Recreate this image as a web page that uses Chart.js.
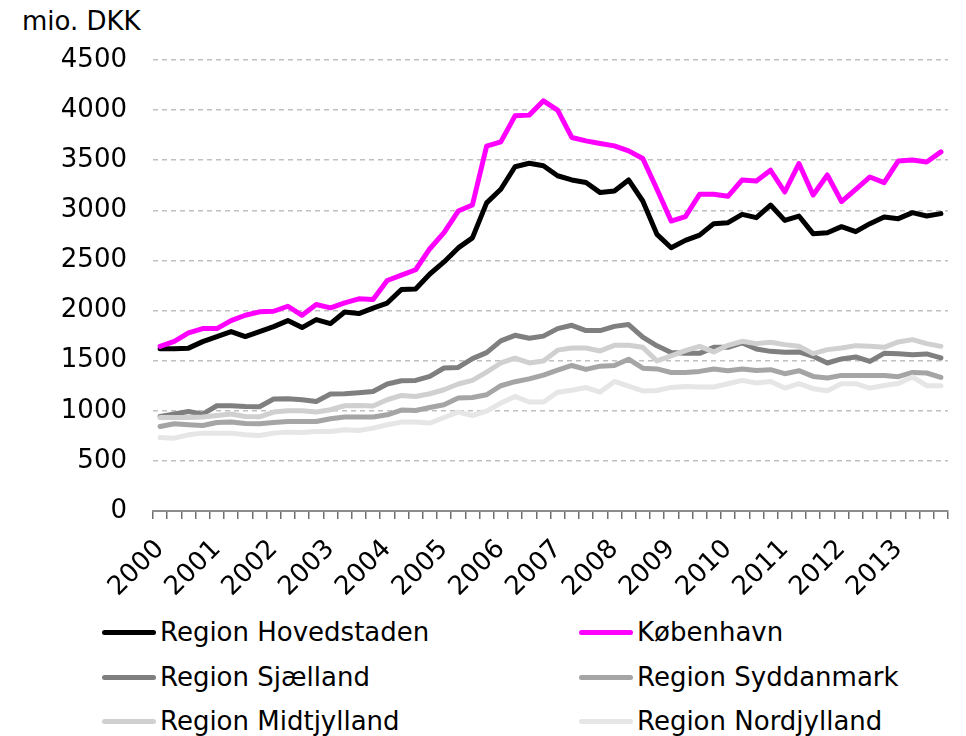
<!DOCTYPE html>
<html lang="da">
<head>
<meta charset="UTF-8">
<title>Regioner</title>
<script src="https://cdn.jsdelivr.net/npm/chart.js"></script>
<style>
  body { margin: 0; background: #fff; font-family: "DejaVu Sans", Verdana, sans-serif; }
  #wrap { position: relative; width: 966px; height: 736px; }
  #unit { position: absolute; left: 22px; top: 6px; font-size: 26px; color: #000; }
  canvas { position: absolute; left: 0; top: 0; }
  .leg { position: absolute; font-size: 26px; color: #000; line-height: 30px; white-space: nowrap; }
  .leg i { position: absolute; left: -58px; top: 13px; width: 54px; height: 5px; border-radius: 3px; }
</style>
</head>
<body>
<div id="wrap">
  <div id="unit">mio. DKK</div>
  <canvas id="c" width="966" height="600"></canvas>
  <div id="legend"></div>
</div>
<script>
const years = ["2000","2001","2002","2003","2004","2005","2006","2007","2008","2009","2010","2011","2012","2013"];
const quarters = ["K1","K2","K3","K4"];
const categories = [];
years.forEach(y => quarters.forEach(q => categories.push(y + q)));

const seriesNames = ["Region Hovedstaden", "København", "Region Sjælland", "Region Syddanmark", "Region Midtjylland", "Region Nordjylland"];
const seriesColors = ["#000000", "#ff00ff", "#7f7f7f", "#a5a5a5", "#d0d0d0", "#e6e6e6"];

const hovedstaden = [1620,1620,1625,1690,1740,1790,1740,1790,1840,1900,1830,1910,1870,1985,1970,2025,
  2075,2210,2215,2365,2485,2625,2725,3075,3210,3435,3470,3445,3345,3303,3277,3177,
  3193,3303,3093,2760,2627,2700,2753,2867,2877,2960,2927,3053,2900,2943,2767,2777,
  2837,2787,2867,2933,2917,2977,2943,2967];
const koebenhavn = [1643,1693,1777,1820,1820,1900,1953,1987,1993,2043,1953,2060,2027,2077,2117,2110,
  2300,2353,2407,2617,2777,2993,3053,3640,3683,3943,3950,4093,4000,3727,3693,3667,
  3643,3593,3517,3210,2893,2937,3160,3160,3140,3303,3293,3400,3183,3467,3153,3353,
  3087,3210,3333,3277,3493,3503,3483,3583];
const sjaelland = [943,967,993,967,1050,1050,1043,1040,1117,1120,1110,1093,1167,1170,1180,1193,
  1267,1300,1303,1343,1427,1433,1520,1580,1697,1753,1723,1745,1820,1853,1800,1800,
  1842,1860,1735,1648,1582,1573,1573,1633,1633,1677,1617,1593,1583,1587,1543,1477,
  1517,1537,1493,1573,1570,1560,1567,1527];
const syddanmark = [843,870,860,853,883,887,873,870,883,893,893,893,920,937,937,937,
  960,1007,1003,1033,1060,1127,1133,1160,1250,1290,1318,1356,1405,1452,1413,1445,
  1452,1515,1425,1418,1382,1383,1393,1417,1400,1417,1403,1410,1370,1400,1343,1327,
  1353,1353,1353,1353,1340,1383,1377,1333];
const midtjylland = [933,933,933,937,953,967,943,940,987,1000,1000,987,1010,1050,1053,1047,
  1110,1153,1143,1170,1210,1267,1303,1385,1477,1525,1477,1497,1605,1627,1627,1597,
  1653,1653,1633,1497,1547,1600,1643,1587,1653,1693,1670,1683,1660,1643,1570,1610,
  1627,1650,1643,1633,1687,1710,1670,1643];
const nordjylland = [733,727,760,777,777,777,760,753,777,787,783,793,793,810,803,827,
  860,887,887,877,933,987,953,997,1077,1143,1088,1088,1185,1205,1232,1187,
  1293,1247,1198,1202,1233,1243,1237,1237,1270,1303,1277,1293,1227,1270,1220,1200,
  1270,1270,1227,1253,1273,1337,1250,1250];

const seriesValues = [hovedstaden, koebenhavn, sjaelland, syddanmark, midtjylland, nordjylland];
const yTicks = [0, 500, 1000, 1500, 2000, 2500, 3000, 3500, 4000, 4500];

const datasets = seriesNames.map((name, i) => ({
  label: name,
  data: seriesValues[i],
  borderColor: seriesColors[i],
  backgroundColor: seriesColors[i],
  borderWidth: 5,
  pointRadius: 0,
  tension: 0,
  borderJoinStyle: "round",
  borderCapStyle: "round",
  order: seriesNames.length - i
}));

new Chart(document.getElementById("c"), {
  type: "line",
  data: { labels: categories, datasets: datasets },
  options: {
    responsive: false,
    devicePixelRatio: 1,
    animation: false,
    layout: { padding: { top: 60, right: 0, left: 0, bottom: 0 } },
    plugins: { legend: { display: false }, tooltip: { enabled: false } },
    scales: {
      x: {
        offset: true,
        grid: { offset: true, drawOnChartArea: false, drawTicks: true, tickLength: 8, color: "#707070", lineWidth: 1.5 },
        border: { display: true, color: "#8c8c8c", width: 2 },
        ticks: {
          autoSkip: false, maxRotation: 45, minRotation: 45, padding: 15,
          color: "#000", font: { family: "DejaVu Sans", size: 26 },
          callback: (v, i) => (i % 4 === 0 ? years[i / 4] : "")
        },
        afterFit: s => { s.height = 89; s.paddingRight = 18; }
      },
      y: {
        min: 0, max: 4500,
        afterBuildTicks: s => { s.ticks = yTicks.map(v => ({ value: v })); },
        grid: { color: "#c0c0c0", lineWidth: 1.5, drawTicks: false },
        border: { display: false, dash: [5, 4] },
        ticks: {
          padding: 26, color: "#000", font: { family: "DejaVu Sans", size: 26 },
          callback: v => String(v)
        },
        afterFit: s => { s.width = 153; }
      }
    }
  }
});

// two-column legend below the chart
const legend = document.getElementById("legend");
seriesNames.forEach((name, i) => {
  const d = document.createElement("div");
  d.className = "leg";
  d.style.left = (i % 2 === 0 ? 160 : 637) + "px";
  d.style.top = (617 + Math.floor(i / 2) * 44.5) + "px";
  d.innerHTML = '<i style="background:' + seriesColors[i] + '"></i>' + name;
  legend.appendChild(d);
});
</script>
</body>
</html>
